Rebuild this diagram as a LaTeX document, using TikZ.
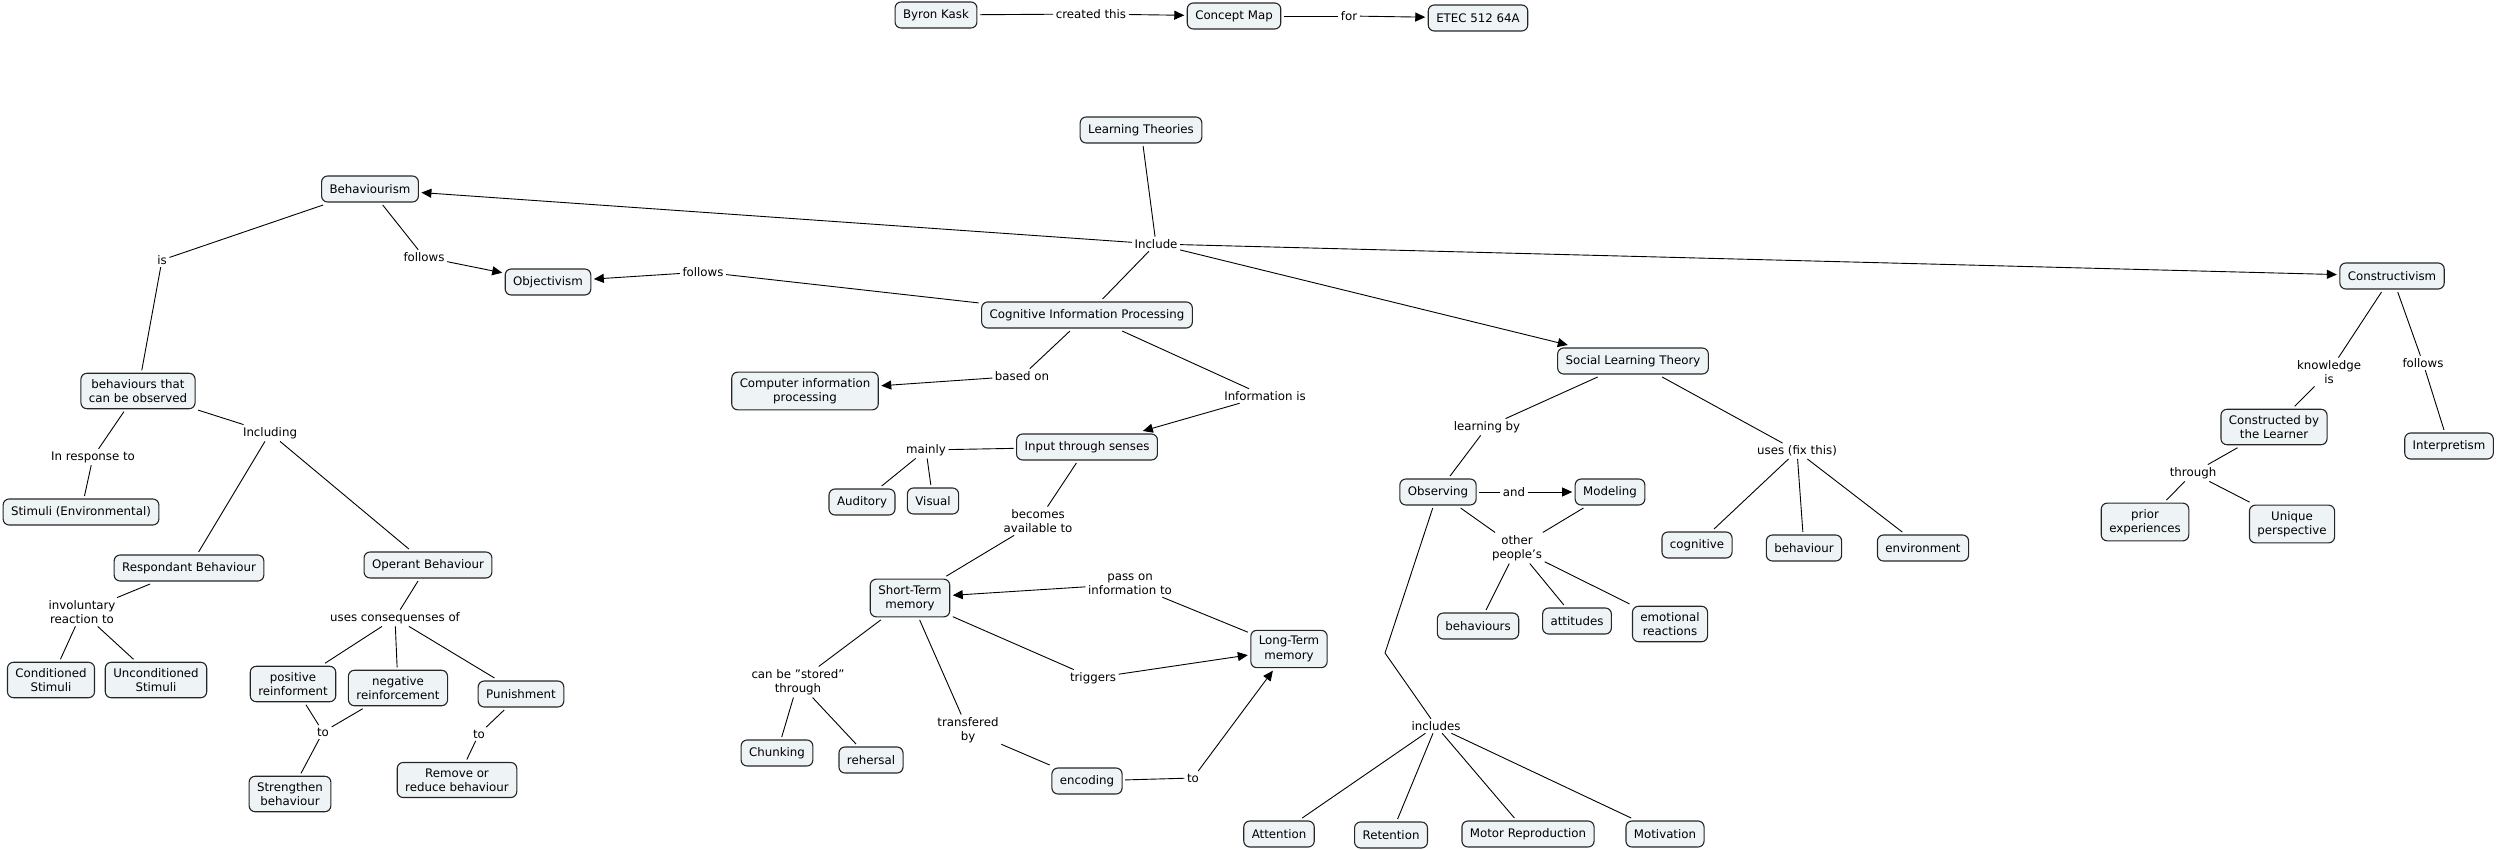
\documentclass[tikz,border=0pt]{standalone}
\usepackage{fontspec}
\setmainfont{DejaVu Sans}
\usepackage{tikz}
\usepackage{color}
\usetikzlibrary{arrows.meta}
\definecolor{cmapfill}{RGB}{238,243,246}
\newcommand{\cmapfont}{\fontsize{11.8}{14.3}\selectfont}

\begin{document}
\begin{tikzpicture}[x=1pt, y=-1pt,
  concept/.style={draw=black!85, line width=1.1pt, fill=cmapfill, rounded corners=6pt, align=center, inner xsep=8pt, inner ysep=6pt, minimum height=26pt, outer sep=3pt, font=\cmapfont},
  linking/.style={align=center, inner sep=2.5pt, font=\cmapfont},
  link/.style={line width=0.9pt},
  linkto/.style={link, -{Triangle[length=10pt,width=9pt]}}]
\useasboundingbox (0,0) rectangle (2497,850);

% Header
\node[concept] (byron) at (936,15) {Byron Kask};
\node[concept] (cmap) at (1234,16) {Concept Map};
\node[concept] (etec) at (1478,18) {ETEC 512 64A};
\node[linking] (lcreated) at (1091,14) {created this};
\node[linking] (lfor) at (1349,16) {for};
\draw[link] (byron) -- (lcreated); \draw[linkto] (lcreated) -- (cmap);
\draw[link] (cmap) -- (lfor); \draw[linkto] (lfor) -- (etec);

% Learning theories
\node[concept] (theories) at (1141,130) {Learning Theories};
\node[linking] (linclude) at (1156,244) {Include};
\node[concept] (behav) at (370,189) {Behaviourism};
\node[concept] (objec) at (548,282) {Objectivism};
\node[concept] (cip) at (1087,315) {Cognitive Information Processing};
\node[concept] (slt) at (1633,361) {Social Learning Theory};
\node[concept] (constr) at (2392,276) {Constructivism};
\draw[link] (theories) -- (linclude);
\draw[linkto] (linclude) -- (behav);
\draw[linkto] (linclude) -- (constr);
\draw[linkto] (linclude) -- (slt);
\draw[link] (linclude) -- (cip);

% Behaviourism
\node[linking] (lis) at (162,260) {is};
\node[linking] (lfollowsA) at (424,257) {follows};
\node[concept] (observable) at (138,391) {behaviours that\\can be observed};
\node[linking] (lresponse) at (93,457) {In response to};
\node[concept] (stimenv) at (81,512) {Stimuli (Environmental)};
\node[linking] (lincluding) at (270,433) {Including};
\node[concept] (respond) at (189,568) {Respondant Behaviour};
\node[concept] (operant) at (428,565) {Operant Behaviour};
\node[linking] (linvol) at (82,612) {involuntary\\reaction to};
\node[concept] (condstim) at (51,680) {Conditioned\\Stimuli};
\node[concept] (uncondstim) at (156,680) {Unconditioned\\Stimuli};
\node[linking] (luses) at (395,618) {uses consequenses of};
\node[concept] (posreinf) at (293,684) {positive\\reinforment};
\node[concept] (negreinf) at (398,688) {negative\\reinforcement};
\node[concept] (punish) at (521,694) {Punishment};
\node[linking] (ltoA) at (323,732) {to};
\node[linking] (ltoB) at (479,734) {to};
\node[concept] (strengthen) at (290,794) {Strengthen\\behaviour};
\node[concept] (remove) at (457,780) {Remove or\\reduce behaviour};
\draw[link] (behav) -- (lis) -- (observable);
\draw[link] (behav) -- (lfollowsA); \draw[linkto] (lfollowsA) -- (objec);
\draw[link] (observable) -- (lresponse) -- (stimenv);
\draw[link] (observable) -- (lincluding);
\draw[link] (lincluding) -- (respond);
\draw[link] (lincluding) -- (operant);
\draw[link] (respond) -- (linvol);
\draw[link] (linvol) -- (condstim);
\draw[link] (linvol) -- (uncondstim);
\draw[link] (operant) -- (luses);
\draw[link] (luses) -- (posreinf);
\draw[link] (luses) -- (negreinf);
\draw[link] (luses) -- (punish);
\draw[link] (posreinf) -- (ltoA); \draw[link] (negreinf) -- (ltoA);
\draw[link] (ltoA) -- (strengthen);
\draw[link] (punish) -- (ltoB) -- (remove);

% Cognitive information processing
\node[linking] (lfollowsB) at (703,272) {follows};
\node[linking] (lbased) at (1022,376) {based on};
\node[concept] (computer) at (805,391) {Computer information\\processing};
\node[linking] (linfo) at (1265,396) {Information is};
\node[concept] (input) at (1087,447) {Input through senses};
\node[linking] (lmainly) at (926,450) {mainly};
\node[concept] (auditory) at (862,502) {Auditory};
\node[concept] (visual) at (933,501) {Visual};
\node[linking] (lbecomes) at (1038,521) {becomes\\available to};
\node[concept] (stm) at (910,598) {Short-Term\\memory};
\node[linking] (lpass) at (1130,584) {pass on\\information to};
\node[concept] (ltm) at (1289,649) {Long-Term\\memory};
\node[linking] (lstored) at (798,682) {can be "stored"\\through};
\node[concept] (chunking) at (777,753) {Chunking};
\node[concept] (rehersal) at (871,760) {rehersal};
\node[linking] (ltransfer) at (968,730) {transfered\\by};
\node[linking] (ltriggers) at (1093,678) {triggers};
\node[concept] (encoding) at (1087,781) {encoding};
\node[linking] (ltoC) at (1193,778) {to};
\draw[link] (cip) -- (lfollowsB); \draw[linkto] (lfollowsB) -- (objec);
\draw[link] (cip) -- (lbased); \draw[linkto] (lbased) -- (computer);
\draw[link] (cip) -- (linfo); \draw[linkto] (linfo) -- (input);
\draw[link] (input) -- (lmainly);
\draw[link] (lmainly) -- (auditory);
\draw[link] (lmainly) -- (visual);
\draw[link] (input) -- (lbecomes) -- (stm);
\draw[link] (ltm) -- (lpass); \draw[linkto] (lpass) -- (stm);
\draw[link] (stm) -- (ltriggers); \draw[linkto] (ltriggers) -- (ltm);
\draw[link] (stm) -- (lstored);
\draw[link] (lstored) -- (chunking);
\draw[link] (lstored) -- (rehersal);
\draw[link] (stm) -- (ltransfer) -- (encoding);
\draw[link] (encoding) -- (ltoC); \draw[linkto] (ltoC) -- (ltm);

% Social learning theory
\node[linking] (llearnby) at (1487,427) {learning by};
\node[linking] (lusesfix) at (1797,451) {uses (fix this)};
\node[concept] (observing) at (1438,492) {Observing};
\node[linking] (land) at (1514,492) {and};
\node[concept] (modeling) at (1610,492) {Modeling};
\node[linking] (lpeople) at (1517,548) {other\\people's};
\node[concept] (cognitive) at (1697,545) {cognitive};
\node[concept] (behaviour) at (1804,548) {behaviour};
\node[concept] (environment) at (1923,548) {environment};
\node[concept] (behaviours) at (1478,626) {behaviours};
\node[concept] (attitudes) at (1577,621) {attitudes};
\node[concept] (emotional) at (1670,624) {emotional\\reactions};
\node[linking] (lincludes) at (1436,726) {includes};
\coordinate (bend) at (1385,653);
\node[concept] (attention) at (1279,834) {Attention};
\node[concept] (retention) at (1391,835) {Retention};
\node[concept] (motor) at (1528,834) {Motor Reproduction};
\node[concept] (motivation) at (1665,834) {Motivation};
\draw[link] (slt) -- (llearnby) -- (observing);
\draw[link] (slt) -- (lusesfix);
\draw[link] (lusesfix) -- (cognitive);
\draw[link] (lusesfix) -- (behaviour);
\draw[link] (lusesfix) -- (environment);
\draw[link] (observing) -- (land); \draw[linkto] (land) -- (modeling);
\draw[link] (observing) -- (lpeople); \draw[link] (modeling) -- (lpeople);
\draw[link] (lpeople) -- (behaviours);
\draw[link] (lpeople) -- (attitudes);
\draw[link] (lpeople) -- (emotional);
\draw[link] (observing) -- (bend) -- (lincludes); % bent connector
\draw[link] (lincludes) -- (attention);
\draw[link] (lincludes) -- (retention);
\draw[link] (lincludes) -- (motor);
\draw[link] (lincludes) -- (motivation);

% Constructivism
\node[linking] (lknow) at (2329,372) {knowledge\\is};
\node[linking] (lfollowsC) at (2423,363) {follows};
\node[concept] (learner) at (2274,427) {Constructed by\\the Learner};
\node[concept] (interp) at (2449,446) {Interpretism};
\node[linking] (lthrough) at (2193,473) {through};
\node[concept] (prior) at (2145,522) {prior\\experiences};
\node[concept] (unique) at (2292,524) {Unique\\perspective};
\draw[link] (constr) -- (lknow) -- (learner);
\draw[link] (constr) -- (lfollowsC) -- (interp);
\draw[link] (learner) -- (lthrough);
\draw[link] (lthrough) -- (prior);
\draw[link] (lthrough) -- (unique);
\end{tikzpicture}
\end{document}
